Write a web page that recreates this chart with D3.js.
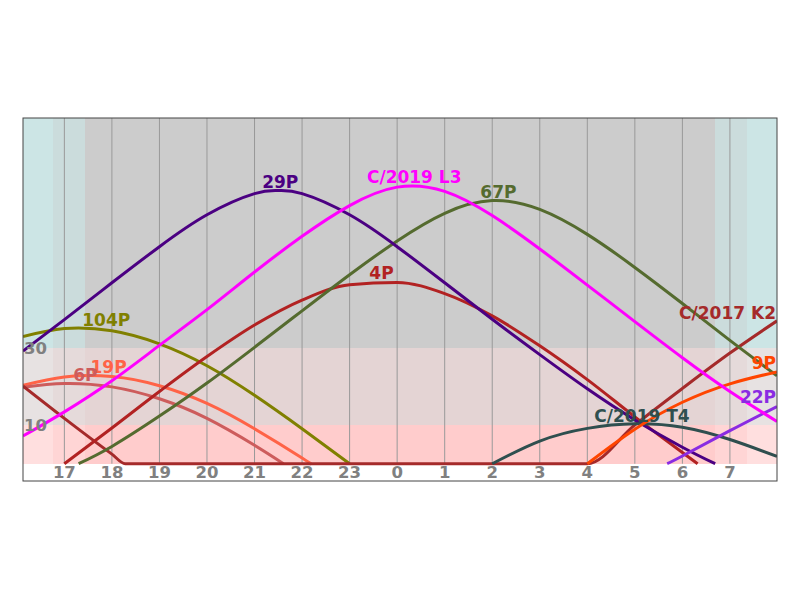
<!DOCTYPE html>
<html><head><meta charset="utf-8">
<script src="https://cdn.jsdelivr.net/npm/d3@7/dist/d3.min.js"></script>
<style>
body{margin:0;background:#fff}
text{font-family:"DejaVu Sans",sans-serif;font-weight:bold}
</style>
</head><body>
<svg id="chart" width="800" height="600"></svg>
<script>
// ---- axis / background data ----
const xDomain = [16.13, 31.99];
const yDomain = [-4.5, 90];
const tickHours = [17,18,19,20,21,22,23,24,25,26,27,28,29,30,31];
const tickLabels = ["17","18","19","20","21","22","23","0","1","2","3","4","5","6","7"];
const altLabels = [10, 30];
const altBands = [0, 10, 30, 90];
const zoneEdges = [16.13, 16.77, 17.44, 30.68, 31.35, 31.99];
const zoneKinds = ["day", "twilight", "night", "twilight", "day"];

// ---- series data (hours after midnight of first day, altitude deg) ----
const names = ["104P","19P","6P","C/2017 K2","4P","67P","29P","C/2019 T4","9P","22P","C/2019 L3"];
const colors = ["#808000","#FF6347","#CD5C5C","#A52A2A","#B22222","#556B2F","#4B0082","#2F4F4F","#FF4500","#8A2BE2","#FF00FF"];

const t104P = [16.13, 17, 18, 19, 20, 21, 22, 23];
const a104P = [33.1, 35.2, 34.6, 31.2, 25.5, 17.8, 9.1, 0];
const t19P  = [16.13, 17, 18, 19, 20, 21, 22, 22.17];
const a19P  = [20.4, 22.6, 22.7, 20.3, 15.7, 9.1, 1.5, 0];
const t6P   = [16.13, 17, 18, 19, 20, 21, 21.61];
const a6P   = [19.9, 20.9, 20.0, 16.9, 11.8, 4.8, 0];
const tK2   = [16.13, 17, 18, 18.28, 28, 29, 30, 31, 31.99];
const aK2   = [20.2, 11.8, 2.5, 0, 0, 10.1, 19.6, 28.8, 37.2];
const t4P   = [17, 18, 19, 20, 21, 22, 23, 24, 25, 26, 27, 28, 29, 30, 30.32];
const a4P   = [0, 9.3, 18.8, 27.9, 36.1, 42.6, 46.6, 47.2, 44.3, 38.5, 30.7, 21.9, 12.2, 2.9, 0];
const t67P  = [17.3, 18, 19, 20, 21, 22, 23, 24, 25, 26, 27, 28, 29, 30, 31, 31.99];
const a67P  = [0, 4.5, 12.4, 21.0, 30.3, 39.8, 49.2, 58.0, 65.2, 68.5, 66.2, 59.7, 51.1, 41.7, 32.1, 22.9];
const t29P  = [16.13, 17, 18, 19, 20, 21, 21.5, 22, 23, 24, 25, 26, 27, 28, 29, 30, 30.69];
const a29P  = [29.3, 37.5, 47.1, 56.5, 64.8, 70.3, 71.1, 70.3, 64.8, 56.5, 47.1, 37.6, 28.4, 19.5, 11.4, 4.3, 0];
const tT4   = [26, 27, 28, 29, 30, 31, 31.99];
const aT4   = [0, 5.9, 9.2, 10.4, 9.5, 6.3, 1.9];
const t9P   = [28, 29, 30, 31, 31.99];
const a9P   = [0, 9.0, 16.0, 20.8, 23.9];
const t22P  = [29.68, 30, 31, 31.99];
const a22P  = [0, 2.0, 8.6, 14.9];
const tL3   = [16.13, 17, 18, 19, 20, 21, 22, 23, 24, 25, 26, 27, 28, 29, 30, 31, 31.99];
const aL3   = [7.2, 13.5, 21.6, 30.8, 40.1, 49.9, 59.2, 67.2, 72.0, 70.9, 64.6, 55.9, 46.5, 37.0, 27.6, 18.8, 11.0];

const seriesT = [t104P, t19P, t6P, tK2, t4P, t67P, t29P, tT4, t9P, t22P, tL3];
const seriesA = [a104P, a19P, a6P, aK2, a4P, a67P, a29P, aT4, a9P, a22P, aL3];

// label anchor points (hour, altitude)
const labelT = [17.88, 17.93, 17.44, 31.99, 23.67, 26.13, 21.54, 29.15, 31.99, 31.99, 24.36];
const labelA = [35.1, 22.9, 20.8, 36.9, 47.3, 68.3, 70.9, 10.2, 24.0, 14.9, 72.2];

// ---- styles ----
const bgColors = {
  day:      ["#ffdfdf", "#e7e2e2", "#cce5e5"],
  twilight: ["#ffd5d5", "#e5dada", "#cbdcdc"],
  night:    ["#ffcccc", "#e4d4d4", "#cccccc"]
};

const svg = d3.select("#chart");
const L = 23, R = 777, T = 118, B = 481;
const x = d3.scaleLinear().domain(xDomain).range([L, R]);
const y = d3.scaleLinear().domain(yDomain).range([B, T]);

svg.append("defs").append("clipPath").attr("id", "clip")
  .append("rect").attr("x", L).attr("y", T).attr("width", R - L).attr("height", B - T);

const g = svg.append("g").attr("clip-path", "url(#clip)");

// background cells
for (let i = 0; i < zoneKinds.length; i++) {
  for (let j = 0; j < altBands.length - 1; j++) {
    g.append("rect")
      .attr("x", x(zoneEdges[i]))
      .attr("width", x(zoneEdges[i + 1]) - x(zoneEdges[i]))
      .attr("y", y(altBands[j + 1]))
      .attr("height", y(altBands[j]) - y(altBands[j + 1]))
      .attr("fill", bgColors[zoneKinds[i]][j])
      .attr("shape-rendering", "crispEdges");
  }
}

// vertical grid lines
g.selectAll("line.grid").data(tickHours).enter().append("line")
  .attr("class", "grid")
  .attr("x1", d => x(d)).attr("x2", d => x(d))
  .attr("y1", y(90)).attr("y2", y(0))
  .attr("stroke", "#999999").attr("stroke-width", 1);

// y labels
svg.selectAll("text.ylab").data(altLabels).enter().append("text")
  .attr("class", "ylab")
  .attr("x", L + 1).attr("y", d => y(d))
  .attr("dominant-baseline", "central")
  .attr("font-size", 16.5).attr("fill", "#808080")
  .text(d => d);

// x tick labels
svg.selectAll("text.xlab").data(tickHours).enter().append("text")
  .attr("class", "xlab")
  .attr("x", d => x(d)).attr("y", 477.5)
  .attr("text-anchor", "middle")
  .attr("font-size", 16.5).attr("fill", "#808080")
  .text((d, i) => tickLabels[i]);

// curves
const smooth = d3.line().x(d => x(d[0])).y(d => y(d[1])).curve(d3.curveNatural);
const mono = d3.line().x(d => x(d[0])).y(d => y(d[1])).curve(d3.curveMonotoneX);
names.forEach((n, i) => {
  const pts = seriesT[i].map((t, k) => [t, seriesA[i][k]]);
  const hasFlat = seriesA[i].filter(v => v === 0).length > 1;
  g.append("path").datum(pts)
    .attr("d", hasFlat ? mono : smooth)
    .attr("fill", "none")
    .attr("stroke", colors[i])
    .attr("stroke-width", 3)
    .attr("stroke-linejoin", "round");
});

// labels
names.forEach((n, i) => {
  const atEnd = labelT[i] >= xDomain[1];
  svg.append("text")
    .attr("x", atEnd ? x(labelT[i]) - 1 : x(labelT[i]))
    .attr("y", y(labelA[i]) - 3)
    .attr("text-anchor", atEnd ? "end" : "middle")
    .attr("font-size", 17)
    .attr("fill", colors[i])
    .text(n);
});

// frame
svg.append("rect").attr("x", L).attr("y", T).attr("width", R - L).attr("height", B - T)
  .attr("fill", "none").attr("stroke", "#444").attr("stroke-width", 1);
</script>
</body></html>
